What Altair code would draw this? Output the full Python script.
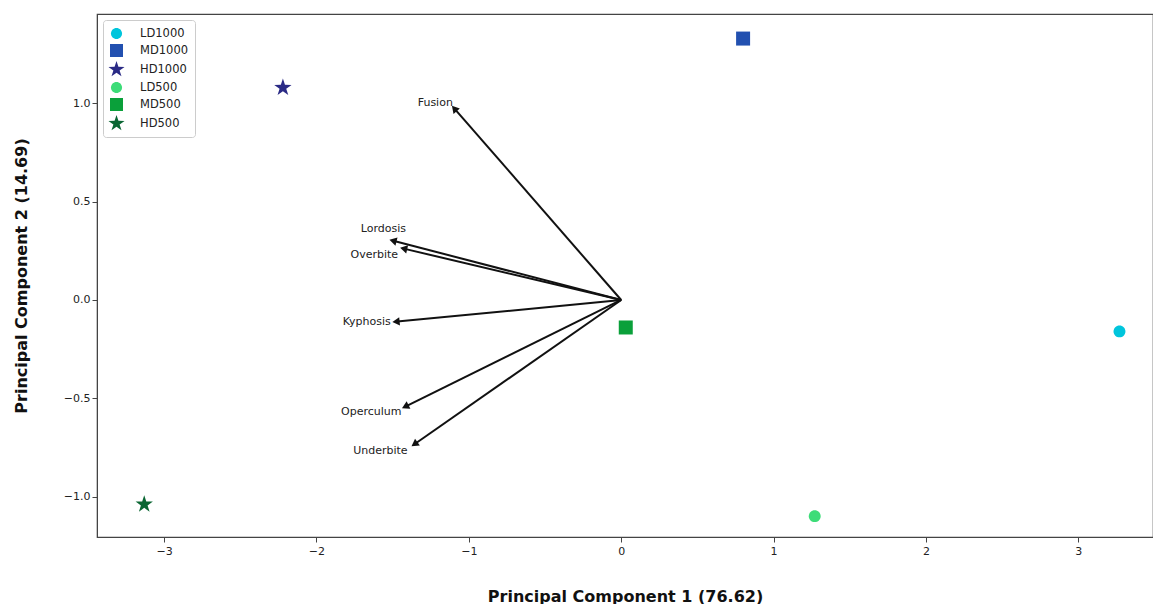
import altair as alt
import pandas as pd
import numpy as np

# Sample scores
groups = ["LD1000", "MD1000", "HD1000", "LD500", "MD500", "HD500"]
pc1 = [3.27, 0.80, -2.22, 1.27, 0.03, -3.13]
pc2 = [-0.16, 1.33, 1.08, -1.10, -0.14, -1.04]
colors = ["#00c5dc", "#2250b0", "#2a2a85", "#3ddc78", "#0aa03a", "#0a6633"]
kinds = ["circle", "square", "star", "circle", "square", "star"]

# Loadings (arrows)
features = ["Fusion", "Lordosis", "Overbite", "Kyphosis", "Operculum", "Underbite"]
load1 = [-1.09, -1.49, -1.42, -1.47, -1.41, -1.35]
load2 = [0.97, 0.30, 0.26, -0.11, -0.54, -0.73]
label1 = [-1.22, -1.56, -1.62, -1.67, -1.64, -1.58]
label2 = [1.00, 0.36, 0.23, -0.11, -0.57, -0.77]

X_DOMAIN = [-3.44, 3.49]
Y_DOMAIN = [-1.206, 1.455]
W, H = 1056, 523

# marker paths (unit box)
def star_path(ro=1.3, ri=0.5):
    pts = []
    for k in range(10):
        r = ro if k % 2 == 0 else ri
        a = np.radians(-90 + 36 * k)
        pts.append(f"{r*np.cos(a):.3f},{r*np.sin(a):.3f}")
    return "M" + "L".join(pts) + "Z"

PATHS = {
    "circle": "M0.85,0A0.85,0.85 0 1,1 -0.85,0A0.85,0.85 0 1,1 0.85,0Z",
    "square": "M-1,-1L1,-1L1,1L-1,1Z",
    "star": star_path(),
}
shape_range = [PATHS[k] for k in kinds]

pts = pd.DataFrame({"x": pc1, "y": pc2, "group": groups})

# arrow head rotation from screen-space direction
kx = W / (X_DOMAIN[1] - X_DOMAIN[0])
ky = H / (Y_DOMAIN[1] - Y_DOMAIN[0])
ang = [float((np.degrees(np.arctan2(a * kx, b * ky)) + 360) % 360) for a, b in zip(load1, load2)]
arr = pd.DataFrame({"x0": 0.0, "y0": 0.0, "x": load1, "y": load2,
                    "lx": label1, "ly": label2, "name": features, "ang": ang})

xs = alt.Scale(domain=X_DOMAIN, nice=False, zero=False)
ys = alt.Scale(domain=Y_DOMAIN, nice=False, zero=False)

xax = alt.Axis(values=[-3, -2, -1, 0, 1, 2, 3], format="d", grid=False, orient="bottom",
               title="Principal Component 1 (76.62)", titlePadding=32)
yax = alt.Axis(values=[-1, -0.5, 0, 0.5, 1], format=".1f", grid=False, orient="left",
               title="Principal Component 2 (14.69)", titlePadding=34, labelPadding=2)

rules = alt.Chart(arr).mark_rule(color="#111111", strokeWidth=2).encode(
    x=alt.X("x0:Q", scale=xs, axis=xax),
    y=alt.Y("y0:Q", scale=ys, axis=yax),
    x2="x:Q", y2="y:Q",
)

heads = alt.Chart(arr).mark_point(shape="triangle", filled=True, color="#111111",
                                  size=70, opacity=1).encode(
    x=alt.X("x:Q", scale=xs), y=alt.Y("y:Q", scale=ys),
    angle=alt.Angle("ang:Q", scale=None),
)

labels = alt.Chart(arr).mark_text(fontSize=11, color="#222222", font="DejaVu Sans").encode(
    x=alt.X("lx:Q", scale=xs), y=alt.Y("ly:Q", scale=ys), text="name:N",
)

points = alt.Chart(pts).mark_point(filled=True, size=196, opacity=1).encode(
    x=alt.X("x:Q", scale=xs), y=alt.Y("y:Q", scale=ys),
    color=alt.Color("group:N", scale=alt.Scale(domain=groups, range=colors),
                    legend=alt.Legend(title=None, orient="top-left", offset=6,
                                      labelFontSize=11.5, symbolSize=170,
                                      labelOffset=16, rowPadding=3, padding=6,
                                      strokeColor="#cccccc", fillColor="white",
                                      cornerRadius=3, labelColor="#222222")),
    shape=alt.Shape("group:N", scale=alt.Scale(domain=groups, range=shape_range)),
)

chart = alt.layer(rules, heads, labels, points).properties(
    width=W, height=H,
    padding={"left": 5, "top": 6, "right": 0, "bottom": 0},
).configure_view(
    stroke="#444444", strokeWidth=1.2
).configure_axis(
    labelFont="DejaVu Sans", titleFont="DejaVu Sans", labelFontSize=11,
    labelColor="#222222", titleColor="#111111", titleFontSize=16,
    titleFontWeight="bold", domainColor="#444444", tickColor="#444444",
    tickSize=5, labelPadding=3,
).configure_legend(
    labelFont="DejaVu Sans"
)

chart.save("out.html", embed_options={"renderer": "svg", "actions": False})
